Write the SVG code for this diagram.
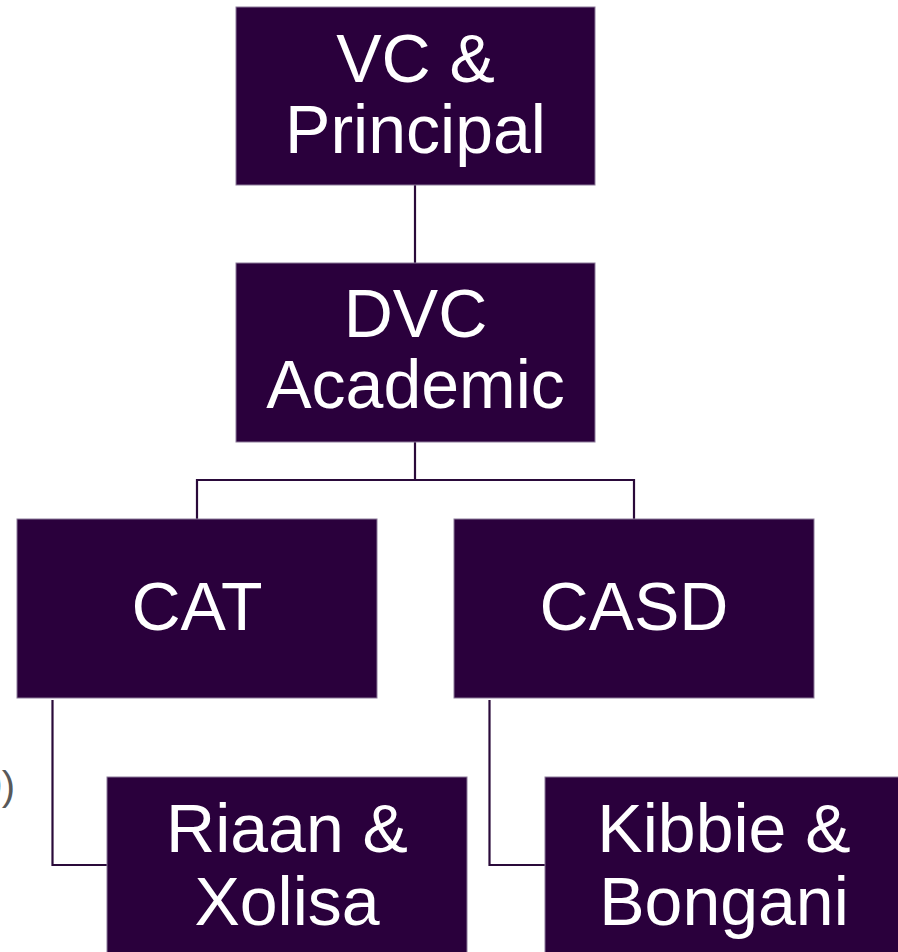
<svg xmlns="http://www.w3.org/2000/svg" width="898" height="952" viewBox="0 0 898 952">
<style>
.box{fill:#2a003c;stroke:#8c7a99;stroke-width:1}
.lbl{fill:#ffffff;font-family:"Liberation Sans",Arial,sans-serif;font-size:68px;text-anchor:middle}
.conn{fill:none;stroke:#2a0a3a;stroke-width:2.2}
</style>
<rect width="898" height="952" fill="#ffffff"/>
<text x="15" y="800" font-family="Liberation Sans,Arial,sans-serif" font-size="40" fill="#595959" text-anchor="end">0)</text>
<g id="connectors">
<path class="conn" d="M415 185V263"/>
<path class="conn" d="M415 442V480H197V519M415 480H634V519"/>
<path class="conn" d="M52.5 700V865H107"/>
<path class="conn" d="M489.5 700V865H545"/>
</g>
<g id="vc">
<rect class="box" x="236" y="7" width="359" height="178"/>
<text class="lbl" x="415.5" y="82">VC &amp;</text>
<text class="lbl" x="415.5" y="153">Principal</text>
</g>
<g id="dvc">
<rect class="box" x="236" y="263" width="359" height="179"/>
<text class="lbl" x="415.5" y="337">DVC</text>
<text class="lbl" x="415.5" y="408">Academic</text>
</g>
<g id="cat">
<rect class="box" x="17" y="519" width="360" height="179"/>
<text class="lbl" x="197" y="630">CAT</text>
</g>
<g id="casd">
<rect class="box" x="454" y="519" width="360" height="179"/>
<text class="lbl" x="634" y="630">CASD</text>
</g>
<g id="riaan">
<rect class="box" x="107" y="777" width="360" height="180"/>
<text class="lbl" x="287" y="852">Riaan &amp;</text>
<text class="lbl" x="287" y="925">Xolisa</text>
</g>
<g id="kibbie">
<rect class="box" x="545" y="777" width="360" height="180"/>
<text class="lbl" x="724" y="852">Kibbie &amp;</text>
<text class="lbl" x="724" y="925">Bongani</text>
</g>
</svg>
